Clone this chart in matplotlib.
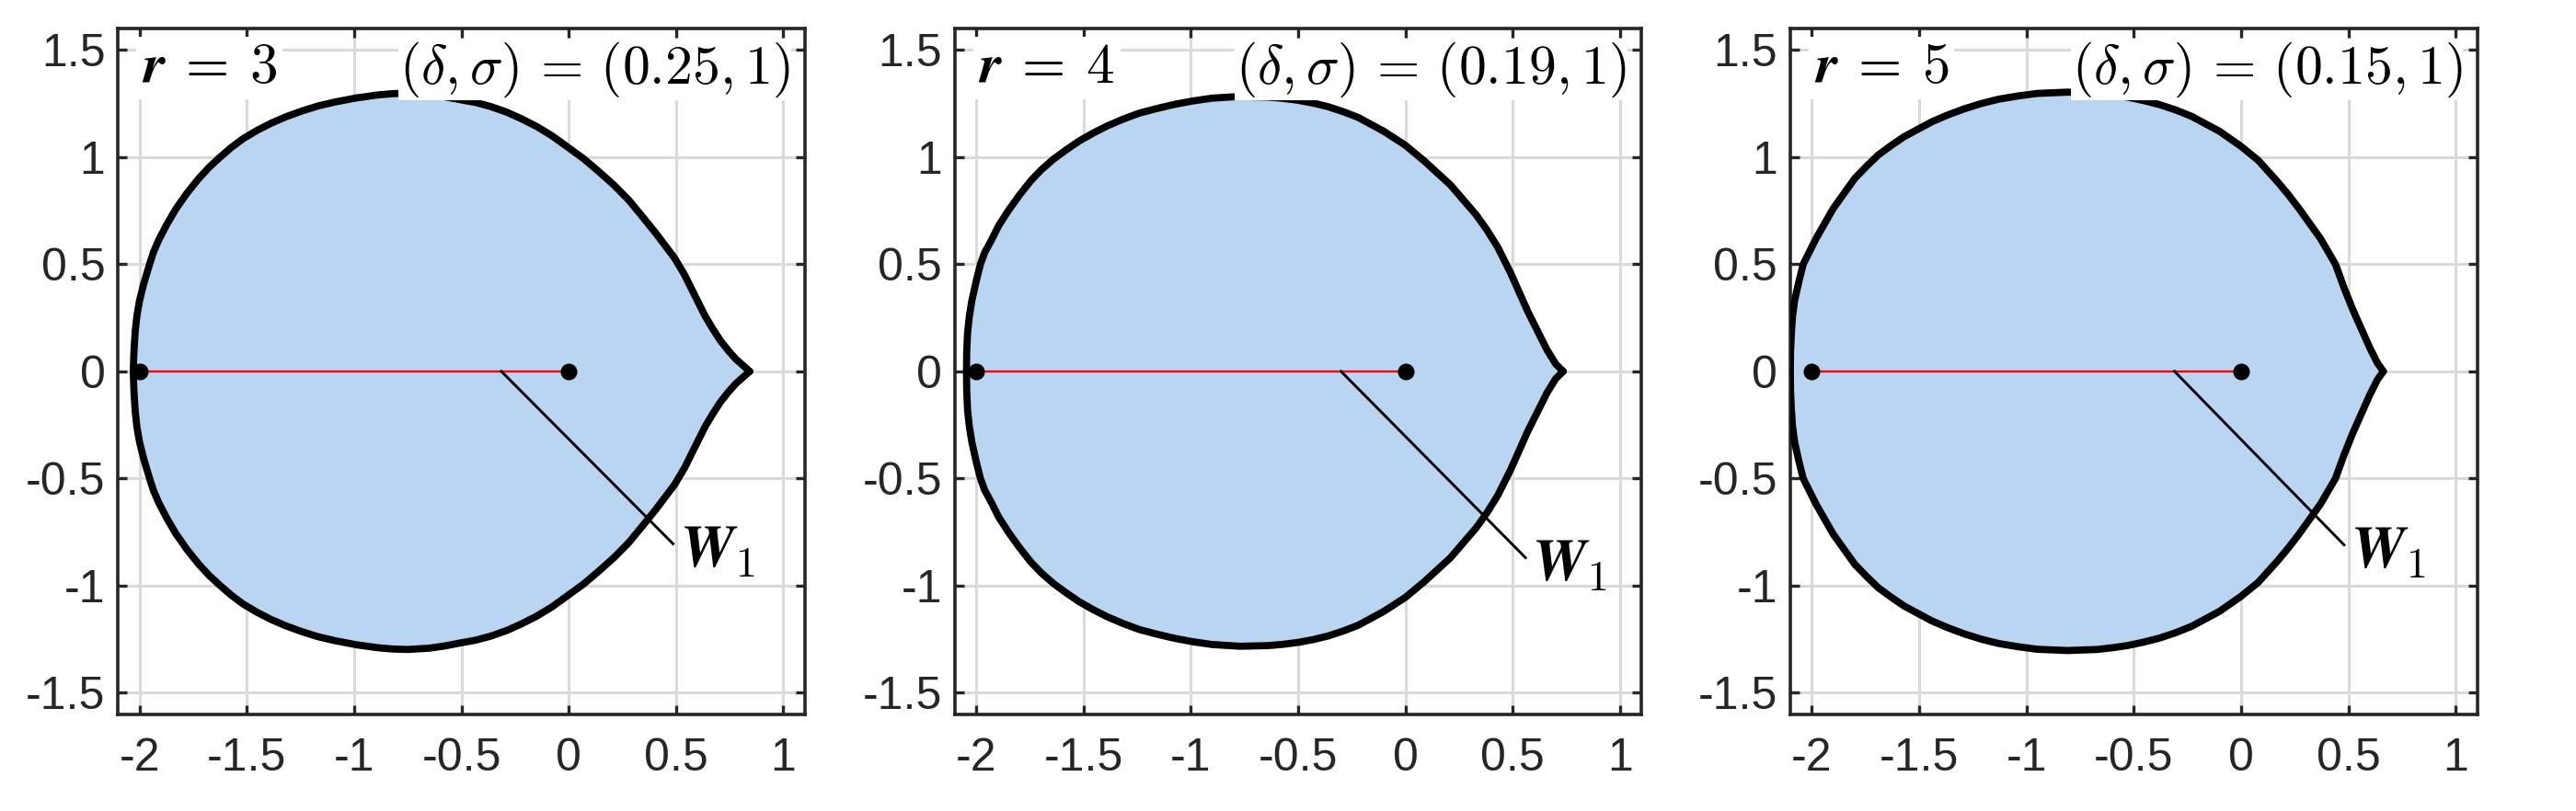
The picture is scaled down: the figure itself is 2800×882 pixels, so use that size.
import matplotlib.pyplot as plt

plt.rcParams['font.family'] = ['Liberation Sans', 'DejaVu Sans']
plt.rcParams['mathtext.fontset'] = 'cm'
plt.rcParams['axes.unicode_minus'] = False

# method parameters per panel
r_values = [3, 4, 5]
delta_values = ['0.25', '0.19', '0.15']
sigma_values = ['1', '1', '1']

# upper half of each stability boundary, cusp -> top -> leftmost point
upper_x_r3 = [0.843, 0.815, 0.779, 0.745, 0.707, 0.672, 0.636, 0.579, 0.54, 0.493,
              0.407, 0.345, 0.279, 0.21, 0.136, 0.07, 0.0, -0.079, -0.15, -0.221,
              -0.29, -0.364, -0.435, -0.507, -0.58, -0.65, -0.75, -0.82, -0.889,
              -0.99, -1.089, -1.17, -1.246, -1.32, -1.389, -1.455, -1.517, -1.572,
              -1.624, -1.676, -1.724, -1.78, -1.831, -1.873, -1.91, -1.935, -1.953,
              -1.98, -2.0, -2.012, -2.02, -2.026, -2.029]
upper_y_r3 = [0.0, 0.025, 0.057, 0.095, 0.143, 0.197, 0.257, 0.371, 0.45, 0.529,
              0.643, 0.72, 0.80, 0.87, 0.936, 0.992, 1.043, 1.10, 1.143, 1.179,
              1.21, 1.236, 1.255, 1.268, 1.282, 1.292, 1.298, 1.296, 1.290,
              1.276, 1.257, 1.238, 1.214, 1.187, 1.157, 1.123, 1.086, 1.045,
              1.0, 0.952, 0.9, 0.83, 0.757, 0.685, 0.614, 0.556, 0.5,
              0.41, 0.329, 0.26, 0.186, 0.09, 0.0]

upper_x_r4 = [0.735, 0.70, 0.66, 0.615, 0.57, 0.53, 0.49, 0.43, 0.38, 0.33,
              0.27, 0.21, 0.15, 0.09, 0.0, -0.10, -0.22, -0.29, -0.36, -0.43,
              -0.50, -0.57, -0.64, -0.77, -0.90, -0.99, -1.08, -1.16, -1.24,
              -1.315, -1.39, -1.455, -1.52, -1.58, -1.64, -1.695, -1.745, -1.80,
              -1.85, -1.895, -1.93, -1.96, -1.98, -2.00, -2.02, -2.032, -2.04,
              -2.044, -2.045]
upper_y_r4 = [0.0, 0.035, 0.10, 0.19, 0.28, 0.37, 0.46, 0.58, 0.66, 0.73,
              0.80, 0.87, 0.925, 0.98, 1.055, 1.12, 1.185, 1.212, 1.235, 1.252,
              1.265, 1.274, 1.28, 1.283, 1.275, 1.262, 1.245, 1.226, 1.205,
              1.177, 1.145, 1.112, 1.075, 1.034, 0.99, 0.942, 0.89, 0.82,
              0.75, 0.68, 0.61, 0.555, 0.50, 0.42, 0.33, 0.255, 0.18,
              0.09, 0.0]

upper_x_r5 = [0.663, 0.635, 0.60, 0.56, 0.52, 0.48, 0.44, 0.37, 0.32, 0.27,
              0.22, 0.17, 0.125, 0.08, 0.0, -0.10, -0.23, -0.305, -0.38, -0.455,
              -0.53, -0.60, -0.67, -0.81, -0.95, -1.04, -1.13, -1.21, -1.29,
              -1.365, -1.44, -1.505, -1.57, -1.63, -1.69, -1.745, -1.80, -1.85,
              -1.90, -1.94, -1.98, -2.01, -2.04, -2.06, -2.08, -2.09, -2.095,
              -2.099, -2.10]
upper_y_r5 = [0.0, 0.04, 0.11, 0.20, 0.29, 0.39, 0.50, 0.62, 0.69, 0.76,
              0.825, 0.885, 0.935, 0.985, 1.05, 1.12, 1.19, 1.22, 1.245, 1.264,
              1.28, 1.29, 1.298, 1.303, 1.297, 1.285, 1.27, 1.25, 1.225,
              1.197, 1.165, 1.13, 1.095, 1.054, 1.01, 0.957, 0.90, 0.83,
              0.76, 0.69, 0.62, 0.56, 0.50, 0.42, 0.33, 0.255, 0.18,
              0.09, 0.0]

boundaries = [(upper_x_r3, upper_y_r3), (upper_x_r4, upper_y_r4), (upper_x_r5, upper_y_r5)]

# real interval marked in red, with its end points
seg_x = [-2, 0]
seg_y = [0, 0]

# W_1 pointer lines
w1_x0 = [-0.314, -0.30, -0.31]
w1_x1 = [0.486, 0.56, 0.48]
w1_y1 = [-0.805, -0.87, -0.81]

xticks = [-2, -1.5, -1, -0.5, 0, 0.5, 1]
xlabels = ['-2', '-1.5', '-1', '-0.5', '0', '0.5', '1']
yticks = [-1.5, -1, -0.5, 0, 0.5, 1, 1.5]
ylabels = ['-1.5', '-1', '-0.5', '0', '0.5', '1', '1.5']

FILL = '#bad5f1'
DARK = '#262626'

fig = plt.figure(figsize=(28, 8.82), dpi=100)
lefts = [128.3 / 2800, 1037.7 / 2800, 1946 / 2800]

for i in range(3):
    ax = fig.add_axes([lefts[i], 105.3 / 882, 746.5 / 2800, 745.7 / 882])
    ux, uy = boundaries[i]
    bx = list(ux) + list(ux[::-1][1:])
    by = list(uy) + [-v for v in uy[::-1][1:]]

    ax.fill(bx, by, color=FILL, lw=0, zorder=1)
    ax.plot(bx, by, color='black', lw=5.6, zorder=3,
            solid_joinstyle='round', solid_capstyle='round')
    ax.plot(seg_x, seg_y, color='red', lw=1.7, zorder=4)
    ax.plot(seg_x, seg_y, 'o', color='black', ms=12, zorder=5)
    ax.plot([w1_x0[i], w1_x1[i]], [0, w1_y1[i]], color='black', lw=2.1, zorder=4)

    ax.text(w1_x1[i] + 0.03, w1_y1[i] - 0.035, r'$\mathbfit{W}_1$', fontsize=47,
            ha='left', va='center', zorder=6)
    ax.text(-1.99, 1.415, r'$\mathbfit{r}\:=\:%d$' % r_values[i], fontsize=44,
            ha='left', va='center', zorder=6,
            bbox=dict(facecolor='white', edgecolor='none', pad=4))
    ax.text(1.03, 1.41, r'$(\delta,\sigma)\,=\,(%s,%s)$' % (delta_values[i], sigma_values[i]),
            fontsize=43, ha='right', va='center', zorder=6,
            bbox=dict(facecolor='white', edgecolor='none', pad=1))

    ax.set_xlim(-2.1, 1.1)
    ax.set_ylim(-1.6, 1.6)
    ax.set_xticks(xticks)
    ax.set_xticklabels(xlabels)
    ax.set_yticks(yticks)
    ax.set_yticklabels(ylabels)
    ax.set_axisbelow(True)
    ax.grid(True, color='#dadada', lw=2.2)
    ax.tick_params(direction='in', length=7, width=2.4, color=DARK, labelcolor=DARK,
                   labelsize=36, top=True, right=True)
    ax.tick_params(axis='x', pad=18)
    ax.tick_params(axis='y', pad=10)
    for s in ax.spines.values():
        s.set_linewidth(2.6)
        s.set_color(DARK)

fig.savefig('out.png', dpi=100, facecolor='white')
